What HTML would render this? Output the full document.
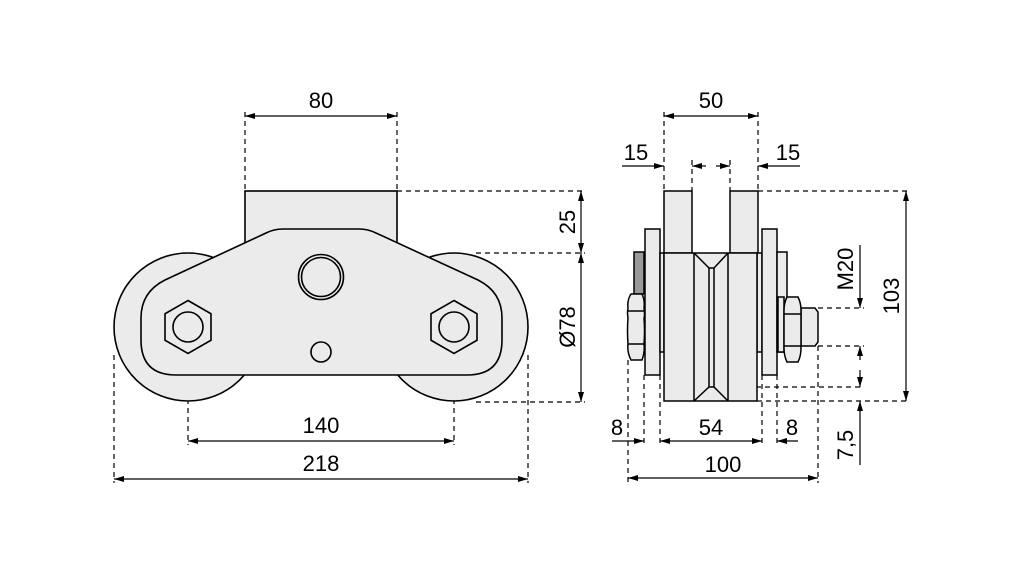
<!DOCTYPE html>
<html><head><meta charset="utf-8"><style>
html,body{margin:0;padding:0;background:#fff;}
svg{display:block;}
text{font-family:"Liberation Sans Narrow","Liberation Sans",sans-serif;font-size:22px;fill:#000;}
</style></head><body>
<svg width="1021" height="567" viewBox="0 0 1021 567" xmlns="http://www.w3.org/2000/svg">
<defs>
<marker id="a" viewBox="0 0 10 6" refX="10" refY="3" markerWidth="10" markerHeight="6" orient="auto-start-reverse" markerUnits="userSpaceOnUse">
<path d="M0,0 L10,3 L0,6 Z" fill="#000"/></marker>
</defs>
<g fill="none" stroke="#000" stroke-width="1.2" stroke-dasharray="5,4">
<!-- left view extension lines -->
<line x1="245" y1="112" x2="245" y2="191"/><line x1="397" y1="112" x2="397" y2="191"/>
<line x1="397" y1="191" x2="585" y2="191"/><line x1="476" y1="253" x2="585" y2="253"/><line x1="476" y1="402" x2="585" y2="402"/>
<line x1="188" y1="327" x2="188" y2="445"/><line x1="454" y1="327" x2="454" y2="445"/>
<line x1="114" y1="355" x2="114" y2="483"/><line x1="528" y1="355" x2="528" y2="483"/>
<!-- right view extension lines -->
<line x1="664" y1="112" x2="664" y2="191"/><line x1="758" y1="112" x2="758" y2="191"/>
<line x1="692" y1="160" x2="692" y2="191"/><line x1="730" y1="160" x2="730" y2="191"/>
<line x1="758" y1="191" x2="910" y2="191"/><line x1="757" y1="401" x2="910" y2="401"/>
<line x1="720" y1="387" x2="864" y2="387"/>
<line x1="818" y1="308" x2="864" y2="308"/><line x1="818" y1="346" x2="864" y2="346"/>
<line x1="628" y1="360" x2="628" y2="483"/><line x1="644" y1="375" x2="644" y2="445"/>
<line x1="660" y1="375" x2="660" y2="445"/><line x1="762" y1="375" x2="762" y2="445"/>
<line x1="777" y1="375" x2="777" y2="445"/><line x1="818" y1="346" x2="818" y2="483"/>
</g>
<!-- LEFT VIEW -->
<g stroke="#000" stroke-width="1.6" fill="#ebebeb">
<rect x="245" y="191" width="152" height="62"/>
<circle cx="188" cy="327" r="74"/>
<circle cx="454" cy="327" r="74"/>
<path d="M283,229 L359,229 Q368,229 376,233 L478,280 Q502,292 502,318 L502,340 Q502,375 467,375 L176,375 Q141,375 141,340 L141,318 Q141,292 165,280 L266,233 Q274,229 283,229 Z"/>
<polygon points="188,300.5 211,313.75 211,340.25 188,353.5 165,340.25 165,313.75"/>
<circle cx="188" cy="327" r="15" fill="none"/>
<polygon points="454,300.5 477,313.75 477,340.25 454,353.5 431,340.25 431,313.75"/>
<circle cx="454" cy="327" r="15" fill="none"/>
<circle cx="321" cy="277" r="22.5" fill="none"/>
<circle cx="321" cy="277" r="19.5" fill="none"/>
<circle cx="321" cy="352" r="10" fill="none"/>
</g>
<!-- RIGHT VIEW -->
<g stroke="#000" stroke-width="1.5" fill="#ebebeb">
<rect x="664" y="191" width="28" height="62"/>
<rect x="730" y="191" width="28" height="62"/>
<rect x="634" y="252" width="10" height="42" fill="#999"/>
<rect x="645" y="229" width="15" height="146"/>
<rect x="660" y="253" width="4" height="99"/>
<rect x="757" y="253" width="5" height="99"/>
<rect x="762" y="229" width="15" height="146"/>
<rect x="777" y="252" width="10" height="100"/>
<rect x="778" y="297" width="6" height="55"/>
<path d="M801,308 L815,308 L818,312 L818,342 L815,346 L801,346 Z"/>
<path d="M664,253 L757,253 L757,401 L664,401 Z"/>
<line x1="694" y1="253" x2="694" y2="401"/>
<line x1="728" y1="253" x2="728" y2="401"/>
<path d="M694,253 L709,268 L714,268 L728,253" fill="none"/>
<path d="M694,401 L709,387 L714,387 L728,401" fill="none"/>
<line x1="709" y1="268" x2="709" y2="387"/>
<line x1="714" y1="268" x2="714" y2="387"/>
<path d="M631,294 L642,294 Q645,300 644,308 Q645,316 644,318 Q645,330 644,344 Q645,352 642,360 L631,360 Q627,352 628,344 Q627,330 628,318 Q627,312 628,308 Q627,300 631,294 Z"/>
<line x1="628" y1="311" x2="644" y2="311"/><line x1="628" y1="344" x2="644" y2="344"/>
<path d="M787,297 L798,297 Q801,303 801,310 L801,348 Q801,356 798,362 L787,362 Q784,356 784,348 L784,310 Q784,303 787,297 Z"/>
<line x1="784" y1="314" x2="801" y2="314"/><line x1="784" y1="346" x2="801" y2="346"/>
</g>
<!-- dimension lines -->
<g stroke="#000" stroke-width="1.2" fill="none">
<line x1="245" y1="116" x2="397" y2="116" marker-start="url(#a)" marker-end="url(#a)"/>
<line x1="581" y1="191" x2="581" y2="253" marker-start="url(#a)" marker-end="url(#a)"/>
<line x1="581" y1="253" x2="581" y2="402" marker-start="url(#a)" marker-end="url(#a)"/>
<line x1="188" y1="441" x2="454" y2="441" marker-start="url(#a)" marker-end="url(#a)"/>
<line x1="114" y1="479" x2="528" y2="479" marker-start="url(#a)" marker-end="url(#a)"/>
<line x1="664" y1="116" x2="758" y2="116" marker-start="url(#a)" marker-end="url(#a)"/>
<line x1="622" y1="166" x2="664" y2="166" marker-end="url(#a)"/>
<line x1="706" y1="166" x2="692" y2="166" marker-end="url(#a)"/>
<line x1="716" y1="166" x2="730" y2="166" marker-end="url(#a)"/>
<line x1="800" y1="166" x2="758" y2="166" marker-end="url(#a)"/>
<line x1="906" y1="191" x2="906" y2="401" marker-start="url(#a)" marker-end="url(#a)"/>
<line x1="860" y1="245" x2="860" y2="308" marker-end="url(#a)"/>
<line x1="860" y1="360" x2="860" y2="346" marker-end="url(#a)"/>
<line x1="860" y1="370" x2="860" y2="387" marker-end="url(#a)"/>
<line x1="860" y1="465" x2="860" y2="401" marker-end="url(#a)"/>
<line x1="612" y1="441" x2="644" y2="441" marker-end="url(#a)"/>
<line x1="660" y1="441" x2="762" y2="441" marker-start="url(#a)" marker-end="url(#a)"/>
<line x1="798" y1="441" x2="777" y2="441" marker-end="url(#a)"/>
<line x1="628" y1="478" x2="818" y2="478" marker-start="url(#a)" marker-end="url(#a)"/>
</g>
<g text-anchor="middle">
<text x="321" y="108">80</text>
<text x="321" y="433">140</text>
<text x="321" y="471">218</text>
<text x="711" y="108">50</text>
<text x="636" y="160">15</text>
<text x="788" y="160">15</text>
<text x="617" y="435">8</text>
<text x="711" y="435">54</text>
<text x="792" y="435">8</text>
<text x="723" y="472">100</text>
<text transform="translate(575,222) rotate(-90)">25</text>
<text transform="translate(575,327) rotate(-90)">Ø78</text>
<text transform="translate(853,269) rotate(-90)">M20</text>
<text transform="translate(899,296) rotate(-90)">103</text>
<text transform="translate(853,445) rotate(-90)">7,5</text>
</g>
</svg>
</body></html>
